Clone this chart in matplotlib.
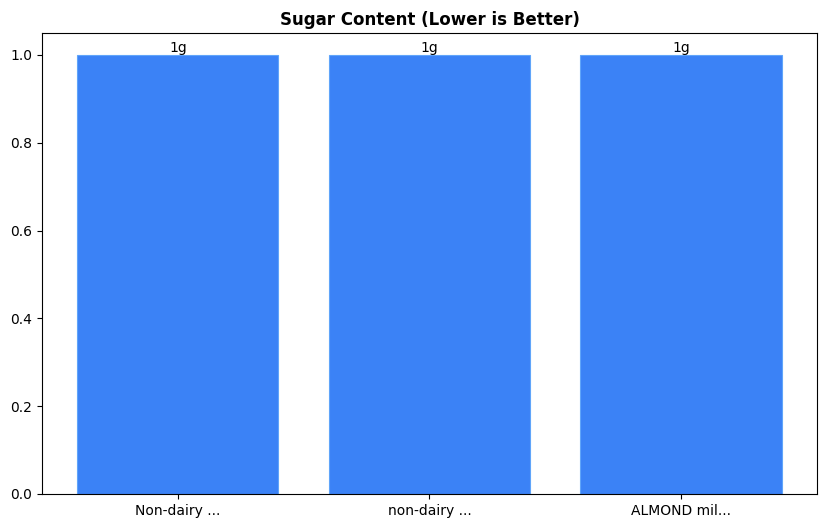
import matplotlib
matplotlib.use("Agg")
import matplotlib.pyplot as plt

categories = ["Non-dairy ...", "non-dairy ...", "ALMOND mil..."]
sugar = [1, 1, 1]
labels = ["1g", "1g", "1g"]

fig = plt.figure(figsize=(8.26, 5.28), dpi=100)
ax = fig.add_axes([0.0508, 0.0644, 0.9383, 0.8731])
bars = ax.bar(range(len(categories)), sugar, width=0.8, color="#3b82f6",
              edgecolor="#60a5fa", linewidth=0.8)
ax.bar_label(bars, labels=labels, fontsize=10)
ax.set_xticks(range(len(categories)))
ax.set_xticklabels(categories)
ax.set_title("Sugar Content (Lower is Better)", fontweight="bold", fontsize=12)
fig.savefig("out.png", dpi=100)
